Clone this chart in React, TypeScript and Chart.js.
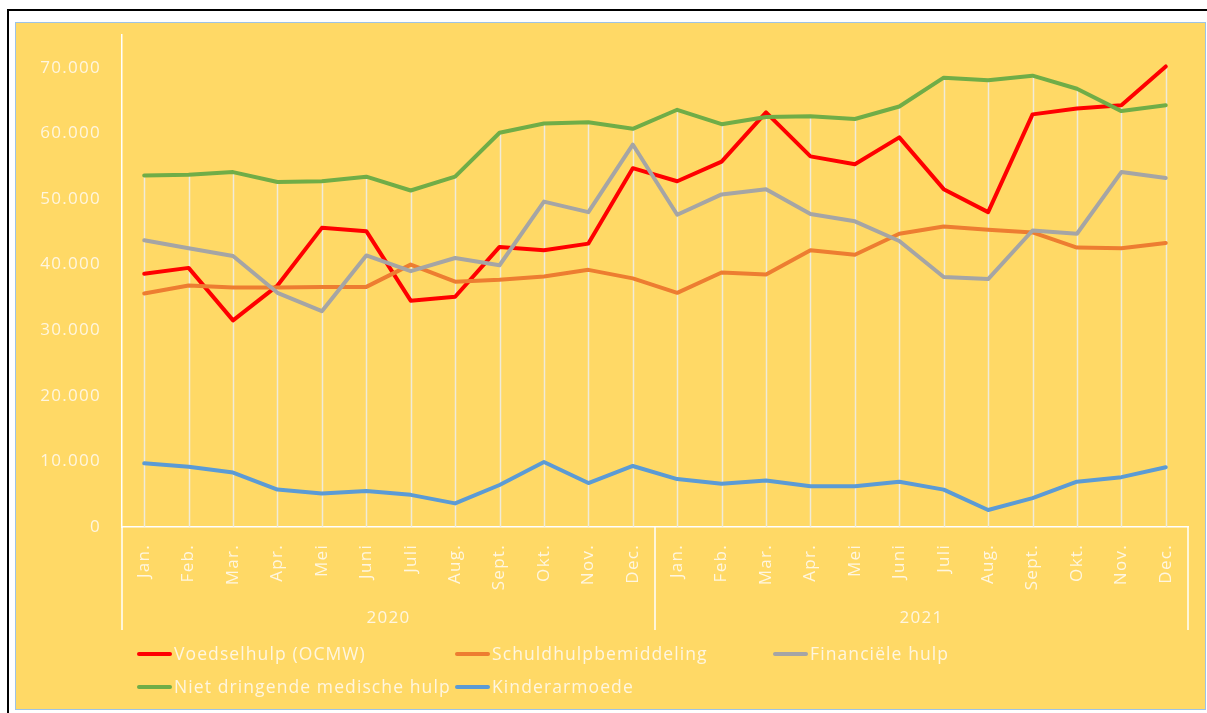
import React, { useEffect, useRef } from 'react';
import { Chart, registerables } from 'chart.js';

Chart.register(...registerables);

const MONTHS = ['Jan.', 'Feb.', 'Mar.', 'Apr.', 'Mei', 'Juni', 'Juli', 'Aug.', 'Sept.', 'Okt.', 'Nov.', 'Dec.'];
const YEARS = ['2020', '2021'];
const CATEGORIES = [...MONTHS, ...MONTHS];

const Y_MAX = 75000;
const Y_TICKS = [0, 10000, 20000, 30000, 40000, 50000, 60000, 70000];

const SERIES_NAMES = [
  'Voedselhulp (OCMW)',
  'Schuldhulpbemiddeling',
  'Financiële hulp',
  'Niet dringende medische hulp',
  'Kinderarmoede',
];

const VOEDSELHULP = [
  38600, 39500, 31500, 36800, 45600, 45100, 34500, 35100, 42700, 42200, 43200, 54700,
  52700, 55700, 63200, 56500, 55300, 59400, 51500, 48000, 62900, 63800, 64300, 70200,
];
const SCHULDHULP = [
  35600, 36800, 36500, 36500, 36600, 36600, 40000, 37400, 37700, 38200, 39200, 37900,
  35700, 38800, 38500, 42200, 41500, 44700, 45800, 45300, 44900, 42600, 42500, 43300,
];
const FINANCIELE = [
  43700, 42500, 41300, 35700, 32900, 41400, 39000, 41000, 39900, 49600, 48000, 58300,
  47600, 50700, 51500, 47700, 46600, 43600, 38100, 37800, 45200, 44700, 54100, 53200,
];
const MEDISCHE = [
  53600, 53700, 54100, 52600, 52700, 53400, 51300, 53400, 60100, 61500, 61700, 60700,
  63600, 61400, 62500, 62600, 62200, 64100, 68500, 68100, 68800, 66800, 63400, 64300,
];
const KINDERARMOEDE = [
  9700, 9200, 8300, 5700, 5100, 5500, 4900, 3600, 6400, 9900, 6700, 9300,
  7300, 6600, 7100, 6200, 6200, 6900, 5700, 2600, 4400, 6900, 7600, 9100,
];

const SERIES = [VOEDSELHULP, SCHULDHULP, FINANCIELE, MEDISCHE, KINDERARMOEDE];
const COLORS = ['#FF0000', '#ED7D31', '#A5A5A5', '#70AD47', '#5B9BD5'];

const TEXT = '#FFF6E0';
const FONT = "'Open Sans', sans-serif";
const FONT_SIZE = 17;
const LEGEND_FONT_SIZE = 17.5;
const BG = '#FFD966';

const fmt = (v: number) => (v === 0 ? '0' : `${Math.round(v / 1000)}.000`);

export default function App() {
  const ref = useRef<HTMLCanvasElement>(null);

  useEffect(() => {
    const canvas = ref.current!;

    const spacing = {
      id: 'spacing',
      beforeDraw(c: any) {
        c.ctx.letterSpacing = '1.3px';
      },
    };

    const dropLines = {
      id: 'dropLines',
      beforeDatasetsDraw(c: any) {
        const xs = c.scales.x;
        const ys = c.scales.y;
        const ca = c.chartArea;
        const g = c.ctx;
        g.save();
        g.strokeStyle = 'rgba(238,236,228,0.9)';
        g.lineWidth = 1.5;
        const n = c.data.labels.length;
        for (let i = 0; i < n; i++) {
          let m = -Infinity;
          c.data.datasets.forEach((d: any) => {
            if (d.data[i] > m) m = d.data[i];
          });
          const px = Math.round(xs.getPixelForValue(i)) + 0.5;
          g.beginPath();
          g.moveTo(px, ys.getPixelForValue(m));
          g.lineTo(px, ca.bottom);
          g.stroke();
        }
        g.restore();
      },
    };

    const separators = {
      id: 'separators',
      afterDraw(c: any) {
        const xs = c.scales.x;
        const x2 = c.scales.x2;
        const g = c.ctx;
        const per = CATEGORIES.length / YEARS.length;
        const pos = [xs.left];
        for (let k = 1; k < YEARS.length; k++) {
          pos.push((xs.getPixelForValue(k * per - 1) + xs.getPixelForValue(k * per)) / 2);
        }
        pos.push(xs.right);
        g.save();
        g.strokeStyle = '#FFFFFF';
        g.lineWidth = 1.5;
        pos.forEach((p) => {
          g.beginPath();
          g.moveTo(p, c.chartArea.bottom);
          g.lineTo(p, x2.bottom);
          g.stroke();
        });
        g.restore();
      },
    };

    const customLegend = {
      id: 'customLegend',
      afterDraw(c: any) {
        const g = c.ctx;
        g.save();
        g.font = `${LEGEND_FONT_SIZE}px ${FONT}`;
        g.letterSpacing = '1.1px';
        g.textBaseline = 'middle';
        g.textAlign = 'left';
        c.data.datasets.forEach((ds: any, i: number) => {
          const col = i % 3;
          const row = Math.floor(i / 3);
          const x0 = 121 + col * 318;
          const y0 = 631 + row * 33;
          g.strokeStyle = ds.borderColor;
          g.lineWidth = 4;
          g.lineCap = 'round';
          g.beginPath();
          g.moveTo(x0 + 2, y0);
          g.lineTo(x0 + 33, y0);
          g.stroke();
          g.fillStyle = TEXT;
          g.fillText(ds.label, x0 + 37, y0 + 1);
        });
        g.restore();
      },
    };

    const chart = new Chart(canvas, {
      type: 'line',
      data: {
        labels: CATEGORIES,
        datasets: SERIES.map((data, i) => ({
          label: SERIES_NAMES[i],
          data,
          borderColor: COLORS[i],
          backgroundColor: COLORS[i],
          borderWidth: 4,
          pointRadius: 0,
          tension: 0,
          borderJoinStyle: 'round' as const,
          borderCapStyle: 'round' as const,
          order: SERIES.length - i,
        })),
      },
      options: {
        animation: false,
        responsive: false,
        maintainAspectRatio: false,
        layout: { padding: { left: 0, top: 12, right: 17, bottom: 79 } },
        plugins: { legend: { display: false }, tooltip: { enabled: false } },
        scales: {
          x: {
            type: 'category',
            offset: true,
            weight: 0,
            grid: { display: false, drawTicks: false },
            border: { display: true, color: '#FFFFFF', width: 1.5 },
            ticks: {
              color: TEXT,
              font: { family: FONT, size: FONT_SIZE },
              minRotation: 90,
              maxRotation: 90,
              autoSkip: false,
              padding: 17,
            },
            afterFit: (s: any) => {
              s.height = 70;
              s.paddingLeft = 0;
              s.paddingRight = 0;
            },
          },
          x2: {
            type: 'category',
            labels: YEARS,
            position: 'bottom',
            offset: true,
            weight: 1,
            grid: { display: false, drawTicks: false },
            border: { display: false },
            ticks: {
              color: TEXT,
              font: { family: FONT, size: FONT_SIZE },
              padding: 11,
              maxRotation: 0,
            },
            afterFit: (s: any) => {
              s.height = 33;
              s.paddingLeft = 0;
              s.paddingRight = 0;
            },
          },
          y: {
            min: 0,
            max: Y_MAX,
            grid: { display: false, drawTicks: false },
            border: { display: true, color: '#FFFFFF', width: 1.5 },
            ticks: {
              color: TEXT,
              font: { family: FONT, size: FONT_SIZE },
              padding: 21,
              callback: (v: any) => fmt(Number(v)),
            },
            afterBuildTicks: (s: any) => {
              s.ticks = Y_TICKS.map((value) => ({ value }));
            },
            afterFit: (s: any) => {
              s.width = 106;
              s.paddingTop = 0;
              s.paddingBottom = 0;
            },
          },
        },
      } as any,
      plugins: [spacing, dropLines, separators, customLegend],
    });

    return () => chart.destroy();
  }, []);

  return (
    <div
      style={{
        position: 'fixed',
        left: 0,
        top: 0,
        width: 1207,
        height: 713,
        overflow: 'hidden',
        background: '#FFFFFF',
      }}
    >
      <div
        style={{
          position: 'absolute',
          left: 7,
          top: 9,
          width: 1230,
          height: 740,
          border: '2px solid #000000',
          boxSizing: 'border-box',
        }}
      />
      <div
        style={{
          position: 'absolute',
          left: 15,
          top: 22,
          width: 1191,
          height: 688,
          background: BG,
          border: '1px solid #9DC3E6',
          boxSizing: 'border-box',
        }}
      >
        <canvas ref={ref} width={1189} height={686} style={{ display: 'block', width: 1189, height: 686 }} />
      </div>
    </div>
  );
}
